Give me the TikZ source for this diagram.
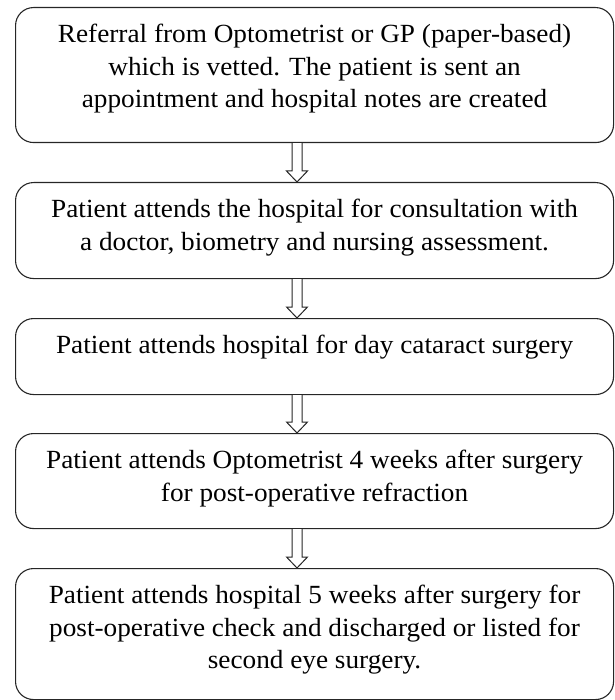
\documentclass[tikz,border=0pt]{standalone}
\usepackage{fontspec}
\setmainfont[FakeStretch=1.04]{Liberation Serif}
\usetikzlibrary{calc}
\begin{document}
\begin{tikzpicture}[x=1pt,y=1pt,
  box/.style={draw=black!85, line width=1.1pt, rounded corners=18pt, minimum width=598pt, inner sep=0pt, anchor=north west},
  txt/.style={anchor=north, align=center, inner sep=0pt, font=\fontsize{26.2}{32.5}\selectfont},
  blockarrow/.style={draw=black!85, line width=1pt, fill=white, to path={
    let \p1=(\tikztostart), \p2=(\tikztotarget) in
    (\x1-5pt,\y1) -- (\x1-5pt,\y2+11pt) -- (\x1-10.5pt,\y2+11pt) -- (\x1,\y2)
    -- (\x1+10.5pt,\y2+11pt) -- (\x1+5pt,\y2+11pt) -- (\x1+5pt,\y1)}}]
\useasboundingbox (0,0) rectangle (614,-700);
\coordinate (ax) at (297,0);
\node[box, minimum height=135pt] (b1) at (15,-7) {};
\node[box, minimum height=96pt] (b2) at (15,-182) {};
\node[box, minimum height=76pt] (b3) at (15,-318) {};
\node[box, minimum height=95pt] (b4) at (15,-433) {};
\node[box, minimum height=131pt] (b5) at (15,-568) {};
\node[txt] (t1) at ($(b1.north)+(0,-17)$) {Referral from Optometrist or GP (paper-based)\\which is vetted. The patient is sent an\\appointment and hospital notes are created};
\node[txt] (t2) at ($(b2.north)+(0,-17)$) {Patient attends the hospital for consultation with\\a doctor, biometry and nursing assessment.};
\node[txt] (t3) at ($(b3.north)+(0,-17)$) {Patient attends hospital for day cataract surgery};
\node[txt] (t4) at ($(b4.north)+(0,-17)$) {Patient attends Optometrist 4 weeks after surgery\\for post-operative refraction};
\node[txt] (t5) at ($(b5.north)+(0,-17)$) {Patient attends hospital 5 weeks after surgery for\\post-operative check and discharged or listed for\\second eye surgery.};
\draw[blockarrow] (b1.south -| ax) to (b2.north -| ax);
\draw[blockarrow] (b2.south -| ax) to (b3.north -| ax);
\draw[blockarrow] (b3.south -| ax) to (b4.north -| ax);
\draw[blockarrow] (b4.south -| ax) to (b5.north -| ax);
\end{tikzpicture}
\end{document}
